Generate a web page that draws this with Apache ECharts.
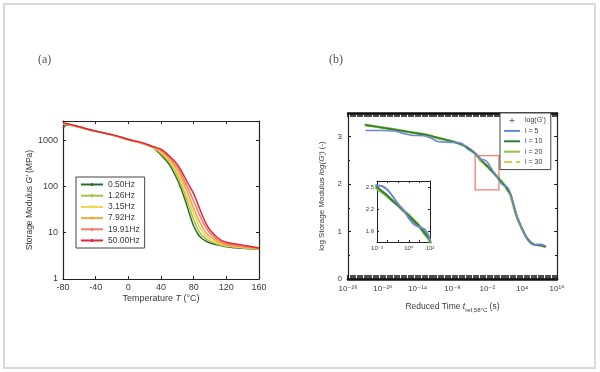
<!DOCTYPE html>
<html><head><meta charset="utf-8">
<script src="https://cdn.jsdelivr.net/npm/echarts@6/dist/echarts.min.js"></script>
<style>html,body{margin:0;padding:0;background:#fff}#c{width:600px;height:372px}</style>
</head><body><div id="c"></div>
<script>
// ---------- Panel (a): storage modulus vs temperature ----------
const temps = [-80,-75,-60,-40,-20,0,20,30,40,50,60,65,70,75,80,85,90,95,100,110,120,140,160];
const freqNames = ['0.50Hz','1.26Hz','3.15Hz','7.92Hz','19.91Hz','50.00Hz'];
const g050 = [1800,2150,1900,1550,1300,1020,820,700,480,300,140,85,48,25,14,9.5,7.5,6.6,6.0,5.4,5.0,4.6,4.4];
const g126 = [2200,2200,1900,1550,1300,1020,820,700,520,340,170,105,62,34,19,12,8.8,7.4,6.5,5.6,5.1,4.7,4.4];
const g315 = [2250,2200,1900,1550,1300,1020,820,705,550,370,200,130,78,45,26,16,11,8.5,7.2,5.9,5.3,4.8,4.5];
const g792 = [2300,2250,1920,1560,1300,1030,830,710,580,400,230,155,96,58,34,21,14,10,8.2,6.3,5.5,4.9,4.5];
const g1991 = [2300,2250,1930,1570,1310,1040,840,720,610,430,265,185,118,76,48,30,19,13,9.8,6.9,5.8,5.1,4.6];
const g5000 = [2350,2280,1950,1580,1320,1050,850,730,640,460,300,215,148,100,70,42,25,16,11.5,7.6,6.2,5.4,4.7];

// ---------- Panel (b): master curve, x = log10(reduced time) ----------
const logT = [-23,-20,-18,-16.5,-15,-13,-11.5,-10.5,-8,-6.5,-5.5,-4,-3,-2.5,-2,-1.5,-1,-0.5,0,0.5,1,1.5,2,3,4,5,6,7,8];
const logG  = [3.25,3.19,3.15,3.12,3.09,3.05,3.01,2.98,2.90,2.84,2.78,2.64,2.50,2.44,2.38,2.31,2.25,2.18,2.11,2.04,1.97,1.88,1.78,1.35,1.06,0.83,0.73,0.71,0.68];
const fit5  = [3.13,3.13,3.12,3.07,3.03,3.02,2.96,2.90,2.88,2.86,2.75,2.63,2.52,2.51,2.46,2.37,2.27,2.19,2.08,2.00,1.96,1.93,1.80,1.36,1.05,0.82,0.72,0.73,0.70];
const fit10 = [3.25,3.19,3.15,3.12,3.09,3.05,3.01,2.98,2.90,2.84,2.78,2.64,2.50,2.44,2.38,2.31,2.25,2.18,2.11,2.04,1.97,1.88,1.78,1.35,1.06,0.83,0.73,0.71,0.68];
const fit20 = [3.24,3.19,3.15,3.12,3.09,3.05,3.01,2.97,2.90,2.84,2.77,2.63,2.48,2.43,2.37,2.31,2.25,2.18,2.12,2.05,1.97,1.87,1.77,1.34,1.05,0.83,0.73,0.71,0.68];
const fit30 = [3.25,3.19,3.15,3.12,3.09,3.05,3.01,2.98,2.90,2.84,2.78,2.64,2.49,2.44,2.38,2.31,2.25,2.18,2.11,2.04,1.97,1.88,1.78,1.35,1.06,0.83,0.73,0.71,0.68];
const fitNames = ["log(G')",'i = 5','i = 10','i = 20','i = 30'];
const zoomBoxX = [-4.1, 0];
const zoomBoxY = [1.88, 2.6];
const insetLabelX = [-3, 0, 2];
const insetLabelY = [1.9, 2.2, 2.5];

const FONT = 'Liberation Sans, Arial, DejaVu Sans, sans-serif';
const TXT = '#3a3a3a';
const sup = n => String(n).split('').map(c => '⁻⁰¹²³⁴⁵⁶⁷⁸⁹'['-0123456789'.indexOf(c)]).join('');
const pair = (xs, ys) => xs.map((x, i) => [x, ys[i]]);

const chart = echarts.init(document.getElementById('c'), null, {renderer: 'canvas'});

const aColors = ['#2f6b2f','#a3c24a','#f2d24a','#f5a640','#f27a68','#e1283a'];
const aData = [g050,g126,g315,g792,g1991,g5000];
const bColors = ['#555555','#6b86d6','#2f7d34','#8cc63f','#d9c84a'];
const bWidths = [0, 1.6, 1.6, 2.6, 2.0];
const bZ = [2, 7, 6, 5, 4];
const bData = [logG, fit5, fit10, fit20, fit30];

const axisLineStyle = {onZero: false, lineStyle: {color: '#222', width: 1.2}};
const tickIn = {inside: true, length: 3, lineStyle: {color: '#222'}};

const series = [];
aData.forEach((arr, i) => {
  series.push({
    name: freqNames[i], type: 'line', xAxisIndex: 0, yAxisIndex: 0,
    data: pair(temps, arr), smooth: 0.3, symbol: 'circle', symbolSize: 3, showSymbol: false,
    lineStyle: {color: aColors[i], width: 1.5}, itemStyle: {color: aColors[i]}, z: 3 + i
  });
});
const plusPath = 'path://M4,0 L6,0 L6,4 L10,4 L10,6 L6,6 L6,10 L4,10 L4,6 L0,6 L0,4 L4,4 Z';
[2, 4].forEach((g, gi) => {
  bData.forEach((arr, i) => {
    if (i === 0) {
      series.push({
        name: fitNames[0], type: 'scatter', xAxisIndex: g, yAxisIndex: g,
        data: pair(logT, arr), symbol: plusPath, symbolSize: gi === 0 ? 3 : 0,
        itemStyle: {color: bColors[0]}, z: bZ[0]
      });
      return;
    }
    series.push({
      name: fitNames[i], type: 'line', xAxisIndex: g, yAxisIndex: g,
      data: pair(logT, arr), smooth: 0.4, symbol: 'none', showSymbol: false,
      lineStyle: {color: bColors[i], width: gi === 0 ? bWidths[i] : bWidths[i] + 0.4, type: i === 4 ? 'dashed' : 'solid'},
      itemStyle: {color: bColors[i]}, z: bZ[i],
      markArea: (gi === 0 && i === 1) ? {
        silent: true,
        itemStyle: {color: 'rgba(255,255,255,0)', borderColor: '#f07b6c', borderWidth: 1.3},
        data: [[{coord: [zoomBoxX[0], zoomBoxY[1]]}, {coord: [zoomBoxX[1], zoomBoxY[0]]}]]
      } : undefined
    });
  });
});

const bLegendData = fitNames.map((n, i) => i === 0
  ? {name: n, icon: plusPath}
  : {name: n, itemStyle: {opacity: 0}});

const option = {
  backgroundColor: '#fff',
  animation: false,
  textStyle: {fontFamily: FONT},
  graphic: [
    {type: 'rect', shape: {x: 4, y: 4, width: 591, height: 364}, style: {fill: 'none', stroke: '#d9d9d9', lineWidth: 2}, silent: true},
    {type: 'text', left: 38, top: 54, style: {text: '(a)', font: '12px "Liberation Serif", serif', fill: '#555'}},
    {type: 'text', left: 329, top: 54, style: {text: '(b)', font: '12px "Liberation Serif", serif', fill: '#555'}}
  ],
  grid: [
    {left: 63, top: 121, width: 196, height: 158, show: false},
    {left: 348, top: 113, width: 209, height: 166, show: false},
    {left: 377, top: 181, width: 53, height: 61, show: false}
  ],
  legend: [
    {
      data: freqNames, orient: 'vertical', left: 76, top: 177,
      padding: [3, 5, 3, 4], itemGap: 2.2, itemWidth: 22, itemHeight: 4,
      backgroundColor: '#fff', borderColor: '#444', borderWidth: 1,
      textStyle: {fontSize: 8.5, color: TXT, fontFamily: FONT}, selectedMode: false
    },
    {
      data: bLegendData, orient: 'vertical', left: 500, top: 113,
      padding: [4, 5, 4, 3], itemGap: 3.4, itemWidth: 16, itemHeight: 5,
      backgroundColor: '#fff', borderColor: '#444', borderWidth: 1,
      textStyle: {fontSize: 7, color: TXT, fontFamily: FONT}, selectedMode: false
    }
  ],
  xAxis: [
    { // 0: a bottom
      gridIndex: 0, type: 'value', min: -80, max: 160, interval: 40,
      axisLine: axisLineStyle, axisTick: tickIn, splitLine: {show: false},
      axisLabel: {fontSize: 9, color: TXT, margin: 4},
      name: '{n|Temperature }{i|T}{n| (°C)}', nameLocation: 'middle', nameGap: 15,
      nameTextStyle: {rich: {n: {fontSize: 9, color: TXT}, i: {fontSize: 9, color: TXT, fontStyle: 'italic'}}}
    },
    { // 1: a top
      gridIndex: 0, type: 'value', position: 'top', min: -80, max: 160, interval: 40,
      axisLine: axisLineStyle, axisTick: tickIn, axisLabel: {show: false}, splitLine: {show: false}
    },
    { // 2: b bottom
      gridIndex: 1, type: 'value', min: -26, max: 10, interval: 2,
      axisLine: {onZero: false, lineStyle: {color: '#111', width: 2.5}},
      axisTick: {inside: true, length: 4, lineStyle: {color: '#111', width: 1.5}},
      minorTick: {show: true, splitNumber: 5, length: 4, lineStyle: {color: '#111', width: 1.5}},
      splitLine: {show: false},
      axisLabel: {fontSize: 8, color: TXT, margin: 6, formatter: v => (Math.round(v) + 26) % 6 === 0 ? '10' + sup(Math.round(v)) : ''},
      name: '{n|Reduced Time }{i|t}{s|ref,58°C}{n| (s)}', nameLocation: 'middle', nameGap: 22,
      nameTextStyle: {rich: {n: {fontSize: 8.5, color: TXT}, i: {fontSize: 8.5, color: TXT, fontStyle: 'italic'}, s: {fontSize: 6, color: TXT, padding: [6, 0, 0, 0]}}}
    },
    { // 3: b top
      gridIndex: 1, type: 'value', position: 'top', min: -26, max: 10, interval: 2,
      axisLine: {onZero: false, lineStyle: {color: '#111', width: 2.5}},
      axisTick: {inside: true, length: 4, lineStyle: {color: '#111', width: 1.5}},
      minorTick: {show: true, splitNumber: 5, length: 4, lineStyle: {color: '#111', width: 1.5}},
      splitLine: {show: false}, axisLabel: {show: false}
    },
    { // 4: inset bottom
      gridIndex: 2, type: 'value', min: -3, max: 2, interval: 1,
      axisLine: {onZero: false, lineStyle: {color: '#222', width: 1}},
      axisTick: {inside: true, length: 2, lineStyle: {color: '#222'}}, splitLine: {show: false},
      axisLabel: {fontSize: 6, color: TXT, margin: 3, formatter: v => insetLabelX.includes(Math.round(v)) ? '10' + sup(Math.round(v)) : ''}
    },
    { // 5: inset top
      gridIndex: 2, type: 'value', position: 'top', min: -3, max: 2, interval: 1,
      axisLine: {onZero: false, lineStyle: {color: '#222', width: 1}},
      axisTick: {inside: true, length: 2, lineStyle: {color: '#222'}}, splitLine: {show: false}, axisLabel: {show: false}
    }
  ],
  yAxis: [
    { // 0: a left
      gridIndex: 0, type: 'log', logBase: 10, min: 1, max: 2600,
      axisLine: axisLineStyle, axisTick: tickIn, splitLine: {show: false},
      axisLabel: {fontSize: 9, color: TXT, margin: 5, showMaxLabel: false, formatter: v => String(Math.round(v))},
      name: "{n|Storage Modulus }{i|G'}{n| (MPa)}", nameLocation: 'middle', nameGap: 27,
      nameTextStyle: {rich: {n: {fontSize: 8.5, color: TXT}, i: {fontSize: 8.5, color: TXT, fontStyle: 'italic'}}}
    },
    { // 1: a right
      gridIndex: 0, type: 'log', logBase: 10, min: 1, max: 2600, position: 'right',
      axisLine: axisLineStyle, axisTick: tickIn, axisLabel: {show: false}, splitLine: {show: false}
    },
    { // 2: b left
      gridIndex: 1, type: 'value', min: 0, max: 3.5, interval: 1,
      axisLine: axisLineStyle, axisTick: tickIn,
      minorTick: {show: true, splitNumber: 2, length: 2, lineStyle: {color: '#222'}},
      splitLine: {show: false},
      axisLabel: {fontSize: 8, color: TXT, margin: 6, showMaxLabel: false},
      name: "{n|log Storage Modulus }{i|log(G')}{n| (-)}", nameLocation: 'middle', nameGap: 22,
      nameTextStyle: {rich: {n: {fontSize: 8, color: TXT}, i: {fontSize: 8, color: TXT, fontStyle: 'italic'}}}
    },
    { // 3: b right
      gridIndex: 1, type: 'value', min: 0, max: 3.5, interval: 1, position: 'right',
      axisLine: axisLineStyle, axisTick: tickIn,
      minorTick: {show: true, splitNumber: 2, length: 2, lineStyle: {color: '#222'}},
      splitLine: {show: false}, axisLabel: {show: false}
    },
    { // 4: inset left
      gridIndex: 2, type: 'value', min: 1.76, max: 2.58,
      axisLine: {onZero: false, lineStyle: {color: '#222', width: 1}},
      axisTick: {inside: true, length: 2, customValues: insetLabelY, lineStyle: {color: '#222'}},
      splitLine: {show: false},
      axisLabel: {fontSize: 6, color: TXT, margin: 3, customValues: insetLabelY, formatter: v => v.toFixed(1)}
    },
    { // 5: inset right
      gridIndex: 2, type: 'value', min: 1.76, max: 2.58, position: 'right',
      axisLine: {onZero: false, lineStyle: {color: '#222', width: 1}},
      axisTick: {inside: true, length: 2, customValues: insetLabelY, lineStyle: {color: '#222'}},
      splitLine: {show: false}, axisLabel: {show: false}
    }
  ],
  series: series
};
chart.setOption(option);
</script>
</body></html>
